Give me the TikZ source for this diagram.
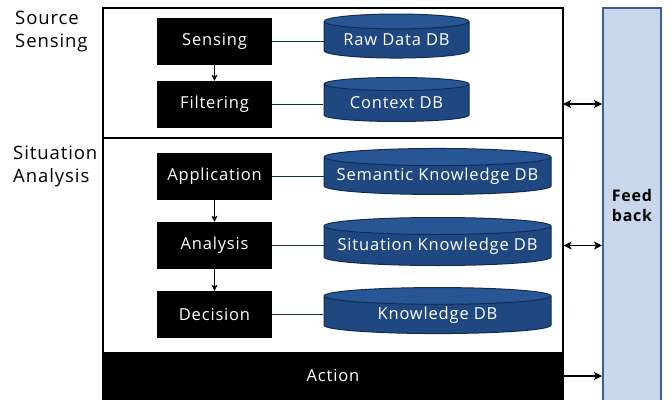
\documentclass[tikz,border=0pt]{standalone}
\usepackage{fontspec}
\setmainfont{Open Sans}[LetterSpace=5]
\usetikzlibrary{positioning}
\usetikzlibrary{shapes.geometric}
\usetikzlibrary{arrows.meta}
\definecolor{dbbody}{RGB}{31,72,128}
\definecolor{dbtop}{RGB}{40,86,148}
\definecolor{dbline}{RGB}{18,44,86}
\definecolor{fbfill}{RGB}{200,215,236}
\definecolor{fbline}{RGB}{58,96,156}
\tikzset{
  stepbox/.style={rectangle,fill=black,text=white,minimum width=115pt,minimum height=47pt,font=\fontsize{16.5}{20}\selectfont},
  dbcyl/.style={cylinder,shape border rotate=90,draw=dbline,line width=1pt,cylinder uses custom fill,
    cylinder body fill=dbbody,cylinder end fill=dbtop,aspect=0.14,text=white,inner xsep=0pt,inner ysep=1pt,
    font=\fontsize{16.5}{20}\selectfont},
  frame/.style={rectangle,draw=black,line width=1.2pt,minimum width=460pt,inner sep=0pt},
  sidelabel/.style={align=left,anchor=north west,font=\fontsize{18.5}{23}\selectfont,inner sep=0pt},
  flow/.style={-{Stealth[length=6pt,width=6pt,inset=1.5pt]},line width=0.8pt},
  fback/.style={line width=1.2pt,{Stealth[length=8pt,width=8pt,inset=2pt]}-{Stealth[length=8pt,width=8pt,inset=2pt]}}
}
\begin{document}
\begin{tikzpicture}[x=1pt,y=-1pt]
\useasboundingbox (0,0) rectangle (672,399);
\fill[white] (0,0) rectangle (672,399);
% frames
\node[frame,minimum height=130pt] (src) at (333,73) {};
\node[frame,minimum height=215pt] (sit) at (333,245.5) {};
\node[frame,fill=black,text=white,minimum height=46pt,font=\fontsize{16.5}{20}\selectfont] (act) at (333,376) {Action};
\node[rectangle,draw=fbline,line width=2pt,fill=fbfill,minimum width=58pt,minimum height=393pt,inner sep=0pt] (fb) at (632,204.5) {};
\node[align=left,font=\bfseries\fontsize{16}{20}\selectfont] (fbtext) at (632,205) {Feed\\back};
% side labels
\node[sidelabel] (srclabel) at (15,11) {Source\\Sensing};
\node[sidelabel] (sitlabel) at (13,146) {Situation\\Analysis};
% steps
\node[stepbox] (sensing) at (214.5,41.5) {Sensing};
\node[stepbox] (filtering) at (214.5,104.5) {Filtering};
\node[stepbox] (application) at (214.5,176) {Application};
\node[stepbox] (analysis) at (214.5,245.5) {Analysis};
\node[stepbox] (decision) at (214.5,314.5) {Decision};
% databases
\node[dbcyl,minimum width=145pt,minimum height=44pt] (rawdb) at (396.5,40) {Raw Data DB};
\node[dbcyl,minimum width=145pt,minimum height=44pt] (ctxdb) at (396.5,103) {Context DB};
\node[dbcyl,aspect=0.085,minimum width=227pt,minimum height=46pt] (semdb) at (437.5,176) {Semantic Knowledge DB};
\node[dbcyl,aspect=0.085,minimum width=227pt,minimum height=48pt] (sitdb) at (437.5,246) {Situation Knowledge DB};
\node[dbcyl,minimum width=227pt,minimum height=46pt] (kdb) at (437.5,315) {Knowledge DB};
% links
\draw[dbline,line width=0.8pt] (sensing.east) -- (sensing.east -| rawdb.west);
\draw[dbline,line width=0.8pt] (filtering.east) -- (filtering.east -| ctxdb.west);
\draw[dbline,line width=0.8pt] (application.east) -- (application.east -| semdb.west);
\draw[dbline,line width=0.8pt] (analysis.east) -- (analysis.east -| sitdb.west);
\draw[dbline,line width=0.8pt] (decision.east) -- (decision.east -| kdb.west);
\draw[flow] (sensing) -- (filtering);
\draw[flow] (application) -- (analysis);
\draw[flow] (analysis) -- (decision);
% feedback
\coordinate (srcout) at (563,104);
\draw[fback] (srcout) -- (srcout -| fb.west);
\draw[fback] (sit.east) -- (sit.east -| fb.west);
\draw[fback,-{Stealth[length=8pt,width=8pt,inset=2pt]}] (act.east) -- (act.east -| fb.west);
\end{tikzpicture}
\end{document}
